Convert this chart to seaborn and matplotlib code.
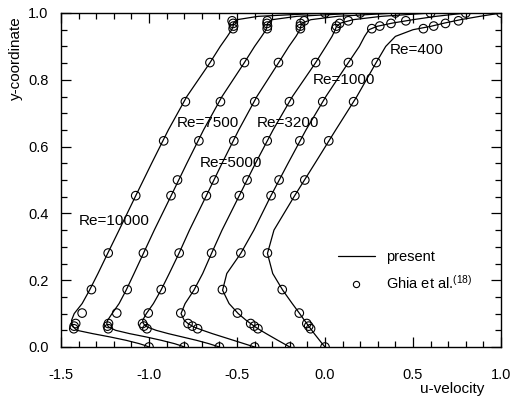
import numpy as np
import pandas as pd
import matplotlib
matplotlib.use('Agg')
import matplotlib.pyplot as plt
import seaborn as sns
from matplotlib.lines import Line2D
from matplotlib.ticker import MultipleLocator

# Reynolds numbers and the horizontal offset applied to each profile
re_list = [400, 1000, 3200, 5000, 7500, 10000]
shift = [0.0, -0.2, -0.4, -0.6, -0.8, -1.0]

# Ghia et al. reference points (vertical centreline, u-velocity)
y_ghia = [1.0, 0.9766, 0.9688, 0.9609, 0.9531, 0.8516, 0.7344, 0.6172, 0.5,
          0.4531, 0.2813, 0.1719, 0.1016, 0.0703, 0.0625, 0.0547, 0.0]
u_ghia_400 = [1.0, 0.75837, 0.68439, 0.61756, 0.55892, 0.29093, 0.16256, 0.02135, -0.11477,
              -0.17119, -0.32726, -0.24299, -0.14612, -0.10338, -0.09266, -0.08186, 0.0]
u_ghia_1000 = [1.0, 0.65928, 0.57492, 0.51117, 0.46604, 0.33304, 0.18719, 0.05702, -0.06080,
               -0.10648, -0.27805, -0.38289, -0.29730, -0.22220, -0.20196, -0.18109, 0.0]
u_ghia_3200 = [1.0, 0.53236, 0.48296, 0.46547, 0.46101, 0.34682, 0.19791, 0.07156, -0.04272,
               -0.08664, -0.24427, -0.34323, -0.41933, -0.37827, -0.35344, -0.32407, 0.0]
u_ghia_5000 = [1.0, 0.48223, 0.46120, 0.45992, 0.46036, 0.33556, 0.20087, 0.08183, -0.03039,
               -0.07404, -0.22855, -0.33050, -0.40435, -0.43643, -0.42901, -0.41165, 0.0]
u_ghia_7500 = [1.0, 0.47244, 0.47048, 0.47323, 0.47167, 0.34228, 0.20591, 0.08342, -0.03800,
               -0.07503, -0.23176, -0.32393, -0.38324, -0.43025, -0.43590, -0.43154, 0.0]
u_ghia_10000 = [1.0, 0.47221, 0.47783, 0.48070, 0.47804, 0.34635, 0.20673, 0.08344, np.nan,
                -0.07540, -0.23186, -0.32709, -0.38000, -0.41657, -0.42537, -0.42735, 0.0]

# present computation
y_line = [0.0, 0.005, 0.01, 0.02, 0.03, 0.04, 0.05, 0.06, 0.07, 0.08, 0.1, 0.13, 0.17,
          0.22, 0.28, 0.35, 0.45, 0.55, 0.65, 0.75, 0.85, 0.9, 0.93, 0.95, 0.96, 0.97,
          0.98, 0.99, 1.0]
u_line_400 = [0.0, -0.008, -0.016, -0.031, -0.046, -0.061, -0.075, -0.089, -0.103, -0.117,
              -0.144, -0.186, -0.240, -0.297, -0.327, -0.290, -0.176, -0.057, 0.061, 0.181,
              0.289, 0.345, 0.40, 0.50, 0.60, 0.68, 0.77, 0.88, 1.0]
u_line_1000 = [0.0, -0.017, -0.034, -0.068, -0.101, -0.134, -0.166, -0.196, -0.222, -0.248,
               -0.293, -0.345, -0.382, -0.358, -0.279, -0.204, -0.110, -0.010, 0.092, 0.205,
               0.331, 0.395, 0.425, 0.450, 0.495, 0.585, 0.70, 0.83, 1.0]
u_line_3200 = [0.0, -0.03, -0.06, -0.12, -0.18, -0.24, -0.295, -0.345, -0.378, -0.400,
               -0.418, -0.395, -0.345, -0.295, -0.245, -0.185, -0.090, 0.005, 0.105, 0.215,
               0.345, 0.405, 0.440, 0.458, 0.465, 0.49, 0.56, 0.72, 1.0]
u_line_5000 = [0.0, -0.03, -0.06, -0.13, -0.21, -0.29, -0.36, -0.41, -0.432, -0.436,
               -0.415, -0.375, -0.332, -0.285, -0.23, -0.17, -0.077, 0.015, 0.11, 0.213,
               0.335, 0.395, 0.435, 0.458, 0.462, 0.47, 0.52, 0.67, 1.0]
u_line_7500 = [0.0, -0.025, -0.055, -0.13, -0.215, -0.31, -0.39, -0.43, -0.44, -0.435,
               -0.41, -0.37, -0.33, -0.285, -0.232, -0.17, -0.077, 0.015, 0.11, 0.215,
               0.34, 0.40, 0.44, 0.465, 0.47, 0.475, 0.50, 0.64, 1.0]
u_line_10000 = [0.0, -0.025, -0.055, -0.13, -0.22, -0.32, -0.41, -0.43, -0.437, -0.44,
                -0.425, -0.38, -0.338, -0.29, -0.235, -0.17, -0.078, 0.015, 0.11, 0.215,
                0.345, 0.405, 0.445, 0.47, 0.478, 0.48, 0.50, 0.62, 1.0]

label_x = [0.37, -0.068, -0.386, -0.71, -0.84, -1.40]
label_y = [0.889, 0.80, 0.67, 0.55, 0.67, 0.377]

ghia = [u_ghia_400, u_ghia_1000, u_ghia_3200, u_ghia_5000, u_ghia_7500, u_ghia_10000]
lines = [u_line_400, u_line_1000, u_line_3200, u_line_5000, u_line_7500, u_line_10000]

pts = []
crv = []
for re, s, ug, ul in zip(re_list, shift, ghia, lines):
    for y, u in zip(y_ghia, ug):
        pts.append({'Re': re, 'y': y, 'u': u + s})
    for y, u in zip(y_line, ul):
        crv.append({'Re': re, 'y': y, 'u': u + s})
df_pts = pd.DataFrame(pts).dropna()
df_crv = pd.DataFrame(crv)

sns.set_style('ticks')
plt.rcParams['font.family'] = ['Liberation Sans', 'DejaVu Sans']
plt.rcParams['mathtext.default'] = 'regular'
plt.rcParams['axes.unicode_minus'] = False
for key in ['text.color', 'axes.labelcolor', 'xtick.color', 'ytick.color', 'axes.edgecolor']:
    plt.rcParams[key] = 'black'

fig = plt.figure(figsize=(5.12, 3.98), dpi=100)
ax = fig.add_axes([61 / 512, 1 - 347 / 398, 440 / 512, 334 / 398])

sns.lineplot(data=df_crv, x='u', y='y', units='Re', estimator=None, sort=False,
             color='black', linewidth=0.9, ax=ax, legend=False)
sns.scatterplot(data=df_pts, x='u', y='y', marker='o', s=38, facecolors='none',
                edgecolor='black', linewidth=0.8, ax=ax, legend=False, zorder=3)

for re, lx, ly in zip(re_list, label_x, label_y):
    ax.text(lx, ly, f'Re={re}', fontsize=11, ha='left', va='center')

ax.set_xlim(-1.5, 1.0)
ax.set_ylim(0.0, 1.0)
ax.xaxis.set_major_locator(MultipleLocator(0.5))
ax.xaxis.set_minor_locator(MultipleLocator(0.1))
ax.yaxis.set_major_locator(MultipleLocator(0.2))
ax.yaxis.set_minor_locator(MultipleLocator(0.05))
ax.xaxis.set_major_formatter(plt.FormatStrFormatter('%.1f'))
ax.yaxis.set_major_formatter(plt.FormatStrFormatter('%.1f'))
ax.tick_params(which='both', direction='in', top=True, right=True, width=0.9)
ax.tick_params(which='major', length=7, labelsize=10.5)
ax.tick_params(which='minor', length=4)
ax.tick_params(axis='x', which='major', pad=15)
ax.tick_params(axis='y', which='major', pad=9)
for sp in ax.spines.values():
    sp.set_linewidth(1.0)
    sp.set_visible(True)

ax.set_xlabel('u-velocity', fontsize=11, va='center')
ax.set_ylabel('y-coordinate', fontsize=11, va='center')
ax.xaxis.set_label_coords(0.89, -0.126)
ax.yaxis.set_label_coords(-0.102, 0.865)

handles = [Line2D([], [], color='black', linewidth=0.9),
           Line2D([], [], color='black', marker='o', linestyle='none',
                  markerfacecolor='none', markersize=4.5, markeredgewidth=0.8)]
ax.legend(handles, ['present', 'Ghia et al.$^{(18)}$'], loc='upper left',
          bbox_to_anchor=(0.6, 0.33), frameon=False, fontsize=10.5,
          handlelength=2.5, handletextpad=0.8, labelspacing=0.7)

fig.savefig('out.png', dpi=100)
